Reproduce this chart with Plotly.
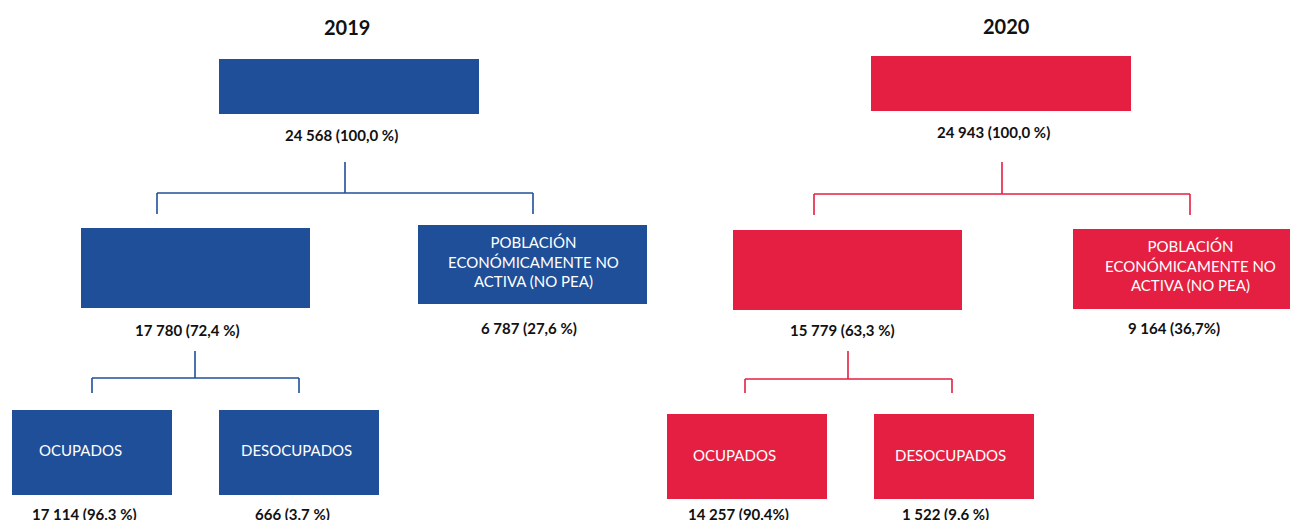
import plotly.graph_objects as go

# ---------------- data ----------------
years = ["2019", "2020"]
node_keys = ["total", "pea", "nopea", "ocup", "desocup"]
box_texts = ["", "", "POBLACIÓN<br>ECONÓMICAMENTE NO<br>ACTIVA (NO PEA)", "OCUPADOS", "DESOCUPADOS"]
labels_2019 = ["24 568 (100,0 %)", "17 780 (72,4 %)", "6 787 (27,6 %)", "17 114 (96,3 %)", "666 (3,7 %)"]
labels_2020 = ["24 943 (100,0 %)", "15 779 (63,3 %)", "9 164 (36,7%)", "14 257 (90,4%)", "1 522 (9,6 %)"]
year_labels = {"2019": labels_2019, "2020": labels_2020}
colors = {"2019": "#1F4F99", "2020": "#E41F41"}

# ---------------- layout geometry (pixel-like axis units) ----------------
geom = {
    "2019": {
        "title": (347, 27),
        "boxes": {
            "total": (219, 479, 59, 114),
            "pea": (81, 310, 228, 308),
            "nopea": (418, 647, 225, 304),
            "ocup": (12, 172, 410, 495),
            "desocup": (219, 379, 410, 495),
        },
        "btext": {"nopea": (533, 261), "ocup": (80, 450), "desocup": (296, 450)},
        "labels": {"total": (341, 135), "pea": (187, 330), "nopea": (529, 328),
                   "ocup": (84, 514), "desocup": (292, 514)},
        "conn": [((345, 162), (345, 193)), ((157, 193), (533, 193)),
                 ((157, 193), (157, 214)), ((533, 193), (533, 214)),
                 ((195, 351), (195, 378)), ((92, 378), (299, 378)),
                 ((92, 378), (92, 393)), ((299, 378), (299, 393))],
    },
    "2020": {
        "title": (1006, 26),
        "boxes": {
            "total": (871, 1131, 56, 111),
            "pea": (733, 962, 230, 310),
            "nopea": (1073, 1302, 229, 309),
            "ocup": (667, 827, 414, 499),
            "desocup": (874, 1034, 414, 499),
        },
        "btext": {"nopea": (1190, 265), "ocup": (734, 455), "desocup": (950, 455)},
        "labels": {"total": (993, 132), "pea": (842, 330), "nopea": (1174, 328),
                   "ocup": (738, 514), "desocup": (945, 514)},
        "conn": [((1002, 162), (1002, 194)), ((814, 194), (1190, 194)),
                 ((814, 194), (814, 215)), ((1190, 194), (1190, 215)),
                 ((848, 351), (848, 379)), ((745, 379), (952, 379)),
                 ((745, 379), (745, 393)), ((952, 379), (952, 393))],
    },
}

FONT = "Lato, 'Open Sans', sans-serif"

fig = go.Figure()
fig.add_trace(go.Scatter(x=[0, 1290], y=[0, 520], mode="markers",
                         marker=dict(opacity=0), hoverinfo="skip", showlegend=False))

shapes = []
annotations = []
for yr in years:
    g = geom[yr]
    col = colors[yr]
    annotations.append(dict(x=g["title"][0], y=g["title"][1], text=f"<b>{yr}</b>",
                            showarrow=False, xref="x", yref="y",
                            font=dict(family=FONT, size=20, color="#111111")))
    for (x0, y0), (x1, y1) in g["conn"]:
        shapes.append(dict(type="line", xref="x", yref="y", x0=x0, y0=y0, x1=x1, y1=y1,
                           line=dict(color=col, width=1.6)))
    for i, key in enumerate(node_keys):
        bx0, bx1, by0, by1 = g["boxes"][key]
        shapes.append(dict(type="rect", xref="x", yref="y", x0=bx0, x1=bx1, y0=by0, y1=by1,
                           fillcolor=col, line=dict(width=0), layer="below"))
        if box_texts[i] and key in g["btext"]:
            tx, ty = g["btext"][key]
            annotations.append(dict(x=tx, y=ty, text=box_texts[i], showarrow=False,
                                    xref="x", yref="y", align="center",
                                    font=dict(family=FONT, size=15, color="white")))
        lx, ly = g["labels"][key]
        annotations.append(dict(x=lx, y=ly, text=f"<b>{year_labels[yr][i]}</b>",
                                showarrow=False, xref="x", yref="y",
                                font=dict(family=FONT, size=15, color="#111111")))

fig.update_layout(
    width=1290, height=520,
    margin=dict(l=0, r=0, t=0, b=0),
    paper_bgcolor="white", plot_bgcolor="white",
    xaxis=dict(range=[0, 1290], visible=False, fixedrange=True),
    yaxis=dict(range=[520, 0], visible=False, fixedrange=True),
    shapes=shapes, annotations=annotations, showlegend=False,
)

fig.write_html("out.html", config={"displayModeBar": False},
               post_script="document.body.style.margin='0';document.body.style.overflow='hidden';")
